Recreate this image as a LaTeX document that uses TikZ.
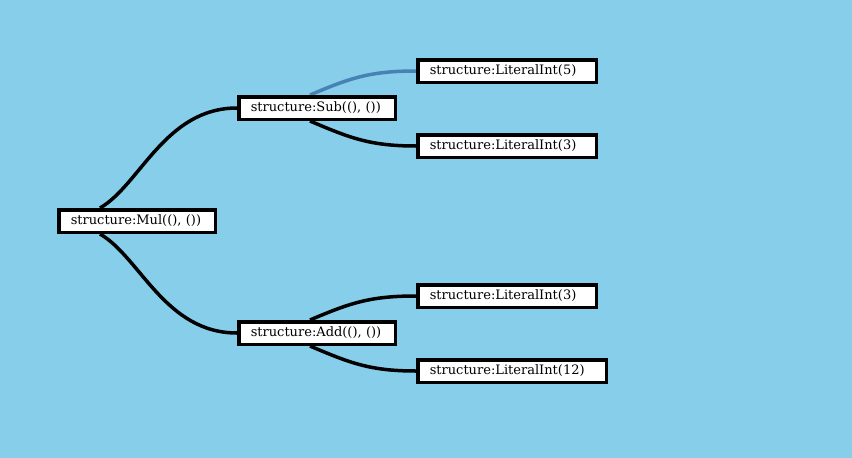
\documentclass[tikz,border=0pt]{standalone}
\usepackage{fontspec}
\setmainfont{DejaVu Serif}
\usetikzlibrary{calc,backgrounds}
\definecolor{bg}{HTML}{87CEEB}
\definecolor{blueedge}{HTML}{4682B4}
\begin{document}
\begin{tikzpicture}[x=1pt,y=-1pt,
  box/.style={draw=black, line width=3.5pt, fill=white, minimum height=22.5pt,
    inner xsep=12pt, inner ysep=0pt, anchor=west, align=left,
    font=\fontsize{13}{15}\selectfont},
  edge/.style={line width=3.5pt, draw=black},
  blueline/.style={line width=3.5pt, draw=blueedge}]
\node[box, text width=132.5pt] (mul) at (57,221) {structure:Mul((), ())};
\node[box, text width=132.5pt] (sub) at (237,108) {structure:Sub((), ())};
\node[box, text width=132.5pt] (add) at (237,333) {structure:Add((), ())};
\node[box, text width=154.5pt] (l5) at (416,71) {structure:LiteralInt(5)};
\node[box, text width=154.5pt] (l3a) at (416,146) {structure:LiteralInt(3)};
\node[box, text width=154.5pt] (l3b) at (416,296) {structure:LiteralInt(3)};
\node[box, text width=164.5pt] (l12) at (416,371) {structure:LiteralInt(12)};
\begin{scope}[on background layer]
\fill[bg] (0,0) rectangle (852,458);
\draw[edge] ($(mul.north west)+(43,0)$) .. controls (140,185) and (165,108) .. (sub.west);
\draw[edge] ($(mul.south west)+(43,0)$) .. controls (140,257) and (165,333) .. (add.west);
\draw[blueline] ($(sub.north west)+(73,0)$) .. controls (350,78) and (370,71) .. (l5.west);
\draw[edge] ($(sub.south west)+(73,0)$) .. controls (350,138) and (370,146) .. (l3a.west);
\draw[edge] ($(add.north west)+(73,0)$) .. controls (350,303) and (370,296) .. (l3b.west);
\draw[edge] ($(add.south west)+(73,0)$) .. controls (350,363) and (370,371) .. (l12.west);
\end{scope}
\end{tikzpicture}
\end{document}
